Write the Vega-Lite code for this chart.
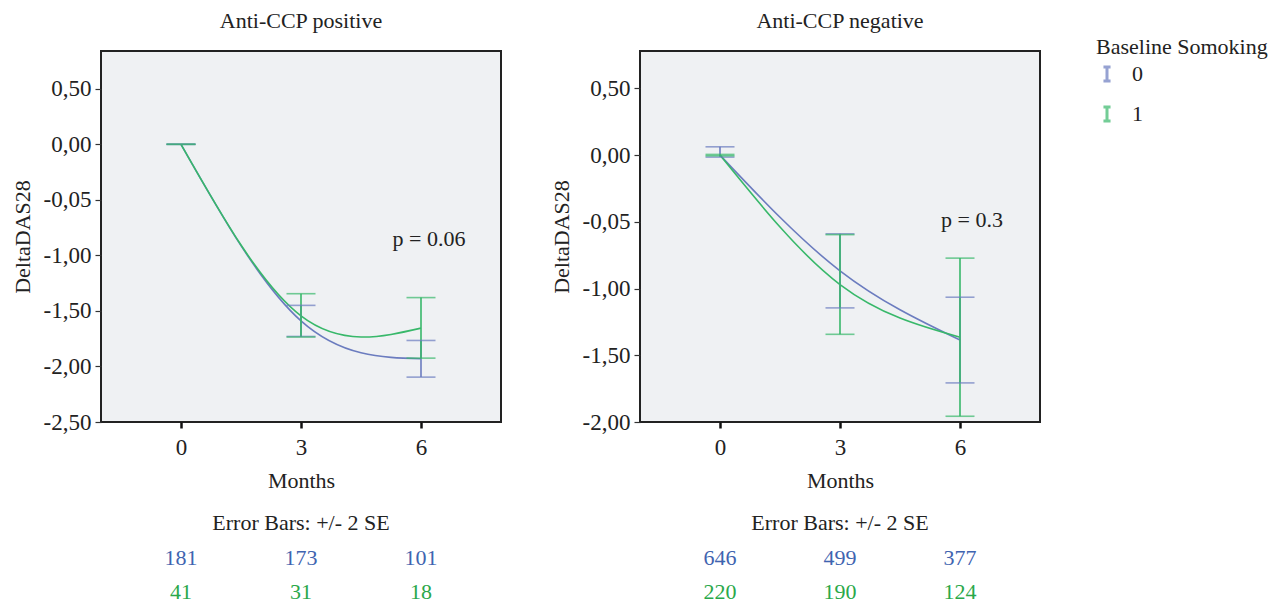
{
  "$schema": "https://vega.github.io/schema/vega-lite/v6.json",
  "padding": {"left": 10, "top": 9, "right": 0, "bottom": 0},
  "config": {
    "font": "Liberation Serif",
    "axis": {"labelFont": "Liberation Serif", "titleFont": "Liberation Serif", "labelFontSize": 23, "titleFontSize": 22, "labelColor": "#222", "titleColor": "#222", "titleFontWeight": "normal", "grid": false, "domain": false, "tickColor": "#333"},
    "title": {"font": "Liberation Serif", "fontSize": 22, "fontWeight": "normal", "color": "#222"},
    "text": {"font": "Liberation Serif"}
  },
  "datasets": {
    "stats": [
      {"panel": "pos", "group": "0", "month": 0, "mean": 0, "lo": 0, "hi": 0},
      {"panel": "pos", "group": "0", "month": 3, "mean": -1.59, "lo": -1.73, "hi": -1.45},
      {"panel": "pos", "group": "0", "month": 6, "mean": -1.93, "lo": -2.096, "hi": -1.766},
      {"panel": "pos", "group": "1", "month": 0, "mean": 0, "lo": 0, "hi": 0},
      {"panel": "pos", "group": "1", "month": 3, "mean": -1.545, "lo": -1.735, "hi": -1.345},
      {"panel": "pos", "group": "1", "month": 6, "mean": -1.655, "lo": -1.925, "hi": -1.38},
      {"panel": "neg", "group": "0", "month": 0, "mean": 0, "lo": -0.015, "hi": 0.062},
      {"panel": "neg", "group": "0", "month": 3, "mean": -0.867, "lo": -1.145, "hi": -0.59},
      {"panel": "neg", "group": "0", "month": 6, "mean": -1.386, "lo": -1.707, "hi": -1.065},
      {"panel": "neg", "group": "1", "month": 0, "mean": 0, "lo": -0.005, "hi": 0.005},
      {"panel": "neg", "group": "1", "month": 3, "mean": -0.97, "lo": -1.343, "hi": -0.596},
      {"panel": "neg", "group": "1", "month": 6, "mean": -1.365, "lo": -1.957, "hi": -0.772}
    ],
    "counts": [
      {"panel": "pos", "group": "0", "month": 0, "n": 181},
      {"panel": "pos", "group": "0", "month": 3, "n": 173},
      {"panel": "pos", "group": "0", "month": 6, "n": 101},
      {"panel": "pos", "group": "1", "month": 0, "n": 41},
      {"panel": "pos", "group": "1", "month": 3, "n": 31},
      {"panel": "pos", "group": "1", "month": 6, "n": 18},
      {"panel": "neg", "group": "0", "month": 0, "n": 646},
      {"panel": "neg", "group": "0", "month": 3, "n": 499},
      {"panel": "neg", "group": "0", "month": 6, "n": 377},
      {"panel": "neg", "group": "1", "month": 0, "n": 220},
      {"panel": "neg", "group": "1", "month": 3, "n": 190},
      {"panel": "neg", "group": "1", "month": 6, "n": 124}
    ],
    "pvals": [
      {"panel": "pos", "label": "p = 0.06", "month": 6.2, "value": -0.85},
      {"panel": "neg", "label": "p = 0.3", "month": 6.3, "value": -0.49}
    ]
  },
  "columns": 2,
  "spacing": {"row": 136, "column": 139},
  "align": "each",
  "bounds": "flush",
  "concat": [
    {
      "width": 400, "height": 371,
      "title": {"text": "Anti-CCP positive", "offset": 18},
      "view": {"fill": "#eff1f3", "stroke": "#222", "strokeWidth": 2},
      "data": {"name": "stats"},
      "transform": [{"filter": "datum.panel == 'pos'"}],
      "encoding": {
        "x": {"field": "month", "type": "quantitative", "scale": {"domain": [-2, 8], "nice": false, "zero": false}, "axis": {"values": [0, 3, 6], "title": "Months", "tickSize": 6, "tickWidth": 2.5, "tickColor": "#111", "labelPadding": 8, "titlePadding": 11, "labelFlush": false}},
        "color": {"field": "group", "type": "nominal", "scale": {"domain": ["0", "1"], "range": ["#6b7cbf", "#38b86a"]},
          "legend": {"title": "Baseline Somoking", "orient": "none", "legendX": 995, "legendY": -14, "titleFontSize": 22, "titleFontWeight": "normal", "titleFont": "Liberation Serif", "labelFontSize": 22, "labelFont": "Liberation Serif", "symbolType": "M-0.5,-1H0.5M0,-1V1M-0.5,1H0.5", "symbolSize": 200, "symbolStrokeWidth": 3, "rowPadding": 12, "titlePadding": 4, "labelOffset": 14, "titleColor": "#222", "labelColor": "#222"}}
      },
      "layer": [
        {"mark": {"type": "line", "interpolate": "natural", "strokeWidth": 1.6},
          "encoding": {"y": {"field": "mean", "type": "quantitative", "title": "DeltaDAS28", "scale": {"domain": [-2.5, 0.84], "nice": false, "zero": false},
            "axis": {"values": [0.5, 0, -0.5, -1, -1.5, -2, -2.5], "labelExpr": "datum.value == -0.5 ? '-0,05' : (datum.value < 0 ? '-' : '') + replace(format(abs(datum.value), '.2f'), '.', ',')", "tickSize": 6, "tickWidth": 1.2, "labelPadding": 4, "titlePadding": 9}}}},
        {"mark": {"type": "rule", "strokeWidth": 1.6},
          "encoding": {"y": {"field": "lo", "type": "quantitative", "title": "DeltaDAS28"}, "y2": {"field": "hi"}}},
        {"mark": {"type": "tick", "orient": "horizontal", "size": 29, "thickness": 1.6},
          "encoding": {"y": {"field": "lo", "type": "quantitative", "title": "DeltaDAS28"}}},
        {"mark": {"type": "tick", "orient": "horizontal", "size": 29, "thickness": 1.6},
          "encoding": {"y": {"field": "hi", "type": "quantitative", "title": "DeltaDAS28"}}},
        {"data": {"name": "pvals"}, "transform": [{"filter": "datum.panel == 'pos'"}],
          "mark": {"type": "text", "fontSize": 22},
          "encoding": {"y": {"field": "value", "type": "quantitative", "title": "DeltaDAS28"}, "text": {"field": "label"}, "color": {"value": "#222"}}}
      ]
    },
    {
      "width": 400, "height": 371,
      "title": {"text": "Anti-CCP negative", "offset": 18},
      "view": {"fill": "#eff1f3", "stroke": "#222", "strokeWidth": 2},
      "data": {"name": "stats"},
      "transform": [{"filter": "datum.panel == 'neg'"}],
      "encoding": {
        "x": {"field": "month", "type": "quantitative", "scale": {"domain": [-2, 8], "nice": false, "zero": false}, "axis": {"values": [0, 3, 6], "title": "Months", "tickSize": 6, "tickWidth": 2.5, "tickColor": "#111", "labelPadding": 8, "titlePadding": 11, "labelFlush": false}},
        "color": {"field": "group", "type": "nominal", "scale": {"domain": ["0", "1"], "range": ["#6b7cbf", "#38b86a"]}}
      },
      "layer": [
        {"mark": {"type": "line", "interpolate": "natural", "strokeWidth": 1.6},
          "encoding": {"y": {"field": "mean", "type": "quantitative", "title": "DeltaDAS28", "scale": {"domain": [-2.0, 0.78], "nice": false, "zero": false},
            "axis": {"values": [0.5, 0, -0.5, -1, -1.5, -2], "labelExpr": "datum.value == -0.5 ? '-0,05' : (datum.value < 0 ? '-' : '') + replace(format(abs(datum.value), '.2f'), '.', ',')", "tickSize": 6, "tickWidth": 1.2, "labelPadding": 4, "titlePadding": 9}}}},
        {"mark": {"type": "rule", "strokeWidth": 1.6},
          "encoding": {"y": {"field": "lo", "type": "quantitative", "title": "DeltaDAS28"}, "y2": {"field": "hi"}}},
        {"mark": {"type": "tick", "orient": "horizontal", "size": 29, "thickness": 1.6},
          "encoding": {"y": {"field": "lo", "type": "quantitative", "title": "DeltaDAS28"}}},
        {"mark": {"type": "tick", "orient": "horizontal", "size": 29, "thickness": 1.6},
          "encoding": {"y": {"field": "hi", "type": "quantitative", "title": "DeltaDAS28"}}},
        {"data": {"name": "pvals"}, "transform": [{"filter": "datum.panel == 'neg'"}],
          "mark": {"type": "text", "fontSize": 22},
          "encoding": {"y": {"field": "value", "type": "quantitative", "title": "DeltaDAS28"}, "text": {"field": "label"}, "color": {"value": "#222"}}}
      ]
    },
    {
      "width": 400, "height": 34,
      "title": {"text": "Error Bars: +/- 2 SE", "offset": 12},
      "view": {"stroke": null, "fill": null},
      "data": {"name": "counts"},
      "transform": [{"filter": "datum.panel == 'pos'"}],
      "mark": {"type": "text", "fontSize": 22, "baseline": "middle"},
      "encoding": {
        "x": {"field": "month", "type": "quantitative", "scale": {"domain": [-2, 8], "nice": false, "zero": false}, "axis": null},
        "y": {"field": "group", "type": "ordinal", "scale": {"type": "point", "padding": 0}, "axis": null},
        "text": {"field": "n"},
        "fill": {"field": "group", "type": "nominal", "scale": {"domain": ["0", "1"], "range": ["#3f64b0", "#2aa84a"]}, "legend": null}
      }
    },
    {
      "width": 400, "height": 34,
      "title": {"text": "Error Bars: +/- 2 SE", "offset": 12},
      "view": {"stroke": null, "fill": null},
      "data": {"name": "counts"},
      "transform": [{"filter": "datum.panel == 'neg'"}],
      "mark": {"type": "text", "fontSize": 22, "baseline": "middle"},
      "encoding": {
        "x": {"field": "month", "type": "quantitative", "scale": {"domain": [-2, 8], "nice": false, "zero": false}, "axis": null},
        "y": {"field": "group", "type": "ordinal", "scale": {"type": "point", "padding": 0}, "axis": null},
        "text": {"field": "n"},
        "fill": {"field": "group", "type": "nominal", "scale": {"domain": ["0", "1"], "range": ["#3f64b0", "#2aa84a"]}, "legend": null}
      }
    }
  ]
}
